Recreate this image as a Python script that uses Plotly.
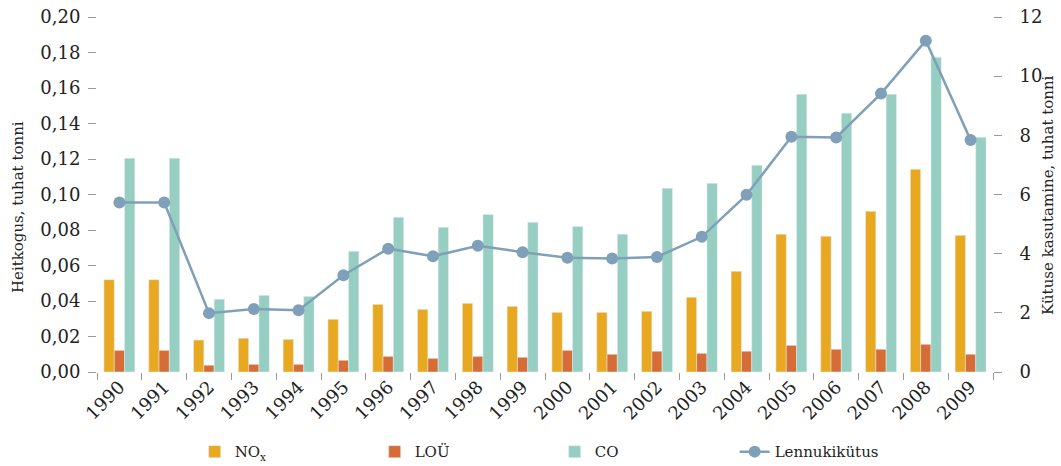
import plotly.graph_objects as go

years = [str(y) for y in range(1990, 2010)]
nox = [0.052, 0.052, 0.018, 0.019, 0.0184, 0.0297, 0.0381, 0.0353, 0.0387, 0.037,
       0.0336, 0.0336, 0.0342, 0.0421, 0.0567, 0.0776, 0.0765, 0.0905, 0.1142, 0.077]
lou = [0.0122, 0.0122, 0.0038, 0.0043, 0.0043, 0.0066, 0.0088, 0.0077, 0.0088, 0.0083,
       0.0122, 0.010, 0.0117, 0.0105, 0.0117, 0.015, 0.0128, 0.0128, 0.0156, 0.010]
co = [0.1204, 0.1204, 0.041, 0.0432, 0.0426, 0.068, 0.0872, 0.0815, 0.0888, 0.0843,
      0.082, 0.0776, 0.1035, 0.1063, 0.1165, 0.1565, 0.1458, 0.1565, 0.1773, 0.1322]
fuel = [5.73, 5.73, 1.99, 2.13, 2.09, 3.27, 4.17, 3.91, 4.27, 4.05,
        3.86, 3.84, 3.89, 4.57, 5.99, 7.95, 7.93, 9.41, 11.2, 7.84]

font_family = "DejaVu Serif, serif"

fig = go.Figure()
fig.add_trace(go.Bar(x=years, y=nox, name="NO<sub>x</sub>", marker_color="#E8A820"))
fig.add_trace(go.Bar(x=years, y=lou, name="LOÜ", marker_color="#D66C36"))
fig.add_trace(go.Bar(x=years, y=co, name="CO", marker_color="#96CFC1"))
fig.add_trace(go.Scatter(x=years, y=fuel, name="Lennukikütus", yaxis="y2",
                         mode="lines+markers",
                         line=dict(color="#7FA0B8", width=2.5),
                         marker=dict(color="#7FA0B8", size=12)))

fig.update_layout(
    width=1061, height=466,
    # fixed margins, nothing is allowed to push them
    margin=dict(l=97, r=68, t=17, b=94, autoexpand=False),
    paper_bgcolor="white", plot_bgcolor="white",
    font=dict(family=font_family, size=18, color="#222"),
    separators=", ",
    barmode="group", bargap=0.31, bargroupgap=0,
    showlegend=True,
    legend=dict(orientation="h", x=0.109, xanchor="left", y=-0.225, yanchor="middle",
                font=dict(size=15), entrywidth=135, traceorder="normal"),
    # explicit range, otherwise the line markers pad the category axis
    xaxis=dict(type="category", range=[-0.5, len(years) - 0.5], tickangle=-45,
               ticks="outside", tickson="boundaries",
               ticklen=7, tickcolor="#999", showline=False, showgrid=False,
               automargin=False, tickfont=dict(size=18)),
    yaxis=dict(range=[0, 0.2], dtick=0.02, tickformat=".2f", ticks="outside",
               ticklen=8, tickcolor="#999", showgrid=False, zeroline=False,
               showline=False, automargin=False, ticklabelstandoff=4),
    yaxis2=dict(range=[0, 12], dtick=2, overlaying="y", side="right", ticks="outside",
                ticklen=8, tickcolor="#999", showgrid=False, zeroline=False,
                showline=False, automargin=False, ticklabelstandoff=14),
)

# axis titles as annotations so they sit where the reference has them
fig.add_annotation(text="Heitkogus, tuhat tonni", xref="paper", yref="paper",
                   x=-0.088, y=0.465, xanchor="center", yanchor="middle",
                   textangle=-90, showarrow=False,
                   font=dict(size=15, color="#222"))
fig.add_annotation(text="Kütuse kasutamine, tuhat tonni", xref="paper", yref="paper",
                   x=1.0614, y=0.496, xanchor="center", yanchor="middle",
                   textangle=-90, showarrow=False,
                   font=dict(size=15, color="#222"))

# drop the page's default body margin so the figure fills the window exactly
fig.write_html("out.html", config={"displayModeBar": False},
               post_script="document.body.style.margin='0';")
